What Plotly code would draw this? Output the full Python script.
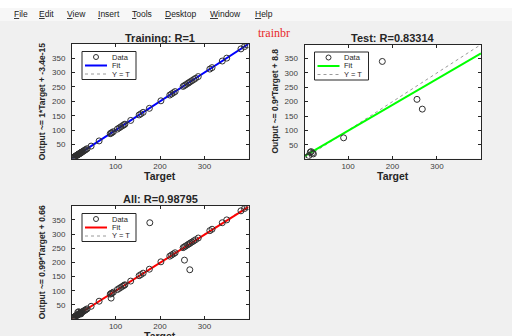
import plotly.graph_objects as go

W, H = 512, 336

# ---------------- data ----------------
train_target = [3, 4, 5, 6, 7, 8, 9, 10, 11, 12, 13, 14, 15, 16, 17, 18, 19, 20, 21, 22,
                23, 24, 25, 27, 29, 31, 33, 36, 45, 63, 88, 90, 92, 95, 104, 108, 112,
                116, 119, 121, 134, 153, 157, 162, 176, 202, 222, 226, 230, 234, 252,
                255, 258, 262, 265, 268, 272, 276, 280, 286, 312, 317, 340, 350, 382,
                390, 396]
train_output = [3, 4, 5, 6, 7, 8, 9, 10, 11, 12, 13, 14, 15, 16, 17, 18, 19, 20, 21, 22,
                23, 24, 25, 27, 29, 31, 33, 36, 45, 63, 88, 90, 92, 95, 104, 108, 112,
                116, 119, 121, 134, 153, 157, 162, 176, 202, 222, 226, 230, 234, 252,
                255, 258, 262, 265, 268, 272, 276, 280, 286, 312, 317, 340, 350, 382,
                390, 396]
test_target = [8, 12, 15, 17, 20, 22, 90, 177, 255, 267]
test_output = [6, 12, 24, 26, 21, 18, 74, 340, 208, 174]

fit_slope = [1.0, 0.9, 0.99]
fit_intercept = [-3.4e-15, 8.8, 0.66]
panel_titles = ["Training: R=1", "Test: R=0.83314", "All: R=0.98795"]
y_labels = ["Output ~= 1*Target + -3.4e-15", "Output ~= 0.9*Target + 8.8",
            "Output ~= 0.99*Target + 0.66"]
x_label = "Target"
fit_colors = ["#0000ff", "#00ff00", "#ff0000"]
axis_lim = [2, 399]
x_ticks = [100, 200, 300]
y_ticks = [50, 100, 150, 200, 250, 300, 350]
legend_labels = ["Data", "Fit", "Y = T"]
menu_items = ["File", "Edit", "View", "Insert", "Tools", "Desktop", "Window", "Help"]
menu_x = [12, 37, 65, 96, 130, 163, 208, 253]
figure_note = "trainbr"

all_target = train_target + test_target
all_output = train_output + test_output
panel_data = [(train_target, train_output), (test_target, test_output), (all_target, all_output)]

# ---------------- layout geometry (pixels) ----------------
boxes = [(72, 44, 248.5, 158.5), (304.5, 44.5, 481, 158.5), (72, 206, 248.5, 318.5)]
ylabel_x = [42, 275, 42]
title_y = [38, 38, 198.5]


def px(x):
    return x / W


def py(y):
    return 1 - y / H


TXT = "#262626"
fig = go.Figure()
shapes = []
annotations = []
layout_axes = {}

for i, ((l, t, r, b), (tx, ty)) in enumerate(zip(boxes, panel_data)):
    sfx = "" if i == 0 else str(i + 1)
    xa, ya = "x" + sfx, "y" + sfx
    m, c = fit_slope[i], fit_intercept[i]
    fig.add_trace(go.Scatter(x=axis_lim, y=axis_lim, mode="lines", xaxis=xa, yaxis=ya,
                             line=dict(color="#9a9a9a", width=1, dash="dot"),
                             name=legend_labels[2], showlegend=False))
    fig.add_trace(go.Scatter(x=axis_lim, y=[m * v + c for v in axis_lim], mode="lines",
                             xaxis=xa, yaxis=ya,
                             line=dict(color=fit_colors[i], width=2),
                             name=legend_labels[1], showlegend=False))
    fig.add_trace(go.Scatter(x=tx, y=ty, mode="markers", xaxis=xa, yaxis=ya,
                             marker=dict(symbol="circle-open", size=6, color="#303030",
                                         line=dict(width=1, color="#303030")),
                             name=legend_labels[0], showlegend=False))
    common = dict(range=axis_lim, ticks="inside", ticklen=3, tickcolor=TXT,
                  showline=True, linecolor=TXT, linewidth=1, mirror="ticks",
                  showgrid=False, zeroline=False,
                  tickfont=dict(family="Liberation Sans", size=8, color="#404040"))
    layout_axes["xaxis" + sfx] = dict(domain=[px(l), px(r)], anchor=ya, tickvals=x_ticks,
                                      **common)
    layout_axes["yaxis" + sfx] = dict(domain=[py(b), py(t)], anchor=xa, tickvals=y_ticks,
                                      ticklabelstandoff=4, **common)
    cx = (l + r) / 2
    # title
    annotations.append(dict(x=px(cx), y=py(title_y[i]), xref="paper", yref="paper",
                            text="<b>%s</b>" % panel_titles[i], showarrow=False,
                            xanchor="center", yanchor="middle",
                            font=dict(family="Liberation Sans", size=11, color=TXT)))
    # x label
    annotations.append(dict(x=px(cx), y=py(b + 17), xref="paper", yref="paper",
                            text="<b>%s</b>" % x_label, showarrow=False,
                            xanchor="center", yanchor="middle",
                            font=dict(family="Liberation Sans", size=10.5, color=TXT)))
    # y label
    annotations.append(dict(x=px(ylabel_x[i]), y=py((t + b) / 2), xref="paper",
                            yref="paper", text="<b>%s</b>" % y_labels[i], showarrow=False,
                            textangle=-90, xanchor="center", yanchor="middle",
                            font=dict(family="Liberation Sans", size=8.5, color=TXT)))
    # legend box
    shapes.append(dict(type="rect", xref="paper", yref="paper",
                       x0=px(l + 10), x1=px(l + 64), y0=py(t + 7.5), y1=py(t + 35.5),
                       line=dict(color=TXT, width=1), fillcolor="white"))
    rows = [t + 13, t + 21.5, t + 30]
    shapes.append(dict(type="circle", xref="paper", yref="paper",
                       x0=px(l + 21.5), x1=px(l + 26.5), y0=py(rows[0] - 2.5),
                       y1=py(rows[0] + 2.5), line=dict(color="#303030", width=1)))
    shapes.append(dict(type="line", xref="paper", yref="paper",
                       x0=px(l + 13), x1=px(l + 35), y0=py(rows[1]), y1=py(rows[1]),
                       line=dict(color=fit_colors[i], width=2)))
    shapes.append(dict(type="line", xref="paper", yref="paper",
                       x0=px(l + 13), x1=px(l + 35), y0=py(rows[2]), y1=py(rows[2]),
                       line=dict(color="#9a9a9a", width=1, dash="dot")))
    for lab, ry in zip(legend_labels, rows):
        annotations.append(dict(x=px(l + 37.5), y=py(ry), xref="paper", yref="paper",
                                text=lab, showarrow=False, xanchor="left",
                                yanchor="middle",
                                font=dict(family="Liberation Sans", size=7.5, color=TXT)))

# window chrome: menu bar
shapes.insert(0, dict(type="rect", xref="paper", yref="paper", x0=0, x1=1,
                      y0=py(21), y1=1, line=dict(width=0), fillcolor="#f7f7f7", layer="below"))
shapes.insert(1, dict(type="rect", xref="paper", yref="paper", x0=0, x1=1,
                      y0=py(8), y1=1, line=dict(width=0), fillcolor="#ffffff", layer="below"))
for name, mx in zip(menu_items, menu_x):
    annotations.append(dict(x=px(mx), y=py(14.5), xref="paper", yref="paper",
                            text="<u>%s</u>%s" % (name[0], name[1:]), showarrow=False,
                            xanchor="left", yanchor="middle",
                            font=dict(family="Liberation Sans", size=8.5, color="#1a1a1a")))
annotations.append(dict(x=px(274), y=py(33.5), xref="paper", yref="paper",
                        text=figure_note, showarrow=False, xanchor="center",
                        yanchor="middle",
                        font=dict(family="Liberation Serif", size=12, color="#e82a2a")))

fig.update_layout(width=W, height=H, margin=dict(l=0, r=0, t=0, b=0),
                  paper_bgcolor="#f0f0f0", plot_bgcolor="white", showlegend=False,
                  shapes=shapes, annotations=annotations, **layout_axes)

fig.write_html("out.html", config={"displayModeBar": False},
               post_script="document.body.style.margin='0';document.body.style.overflow='hidden';")
